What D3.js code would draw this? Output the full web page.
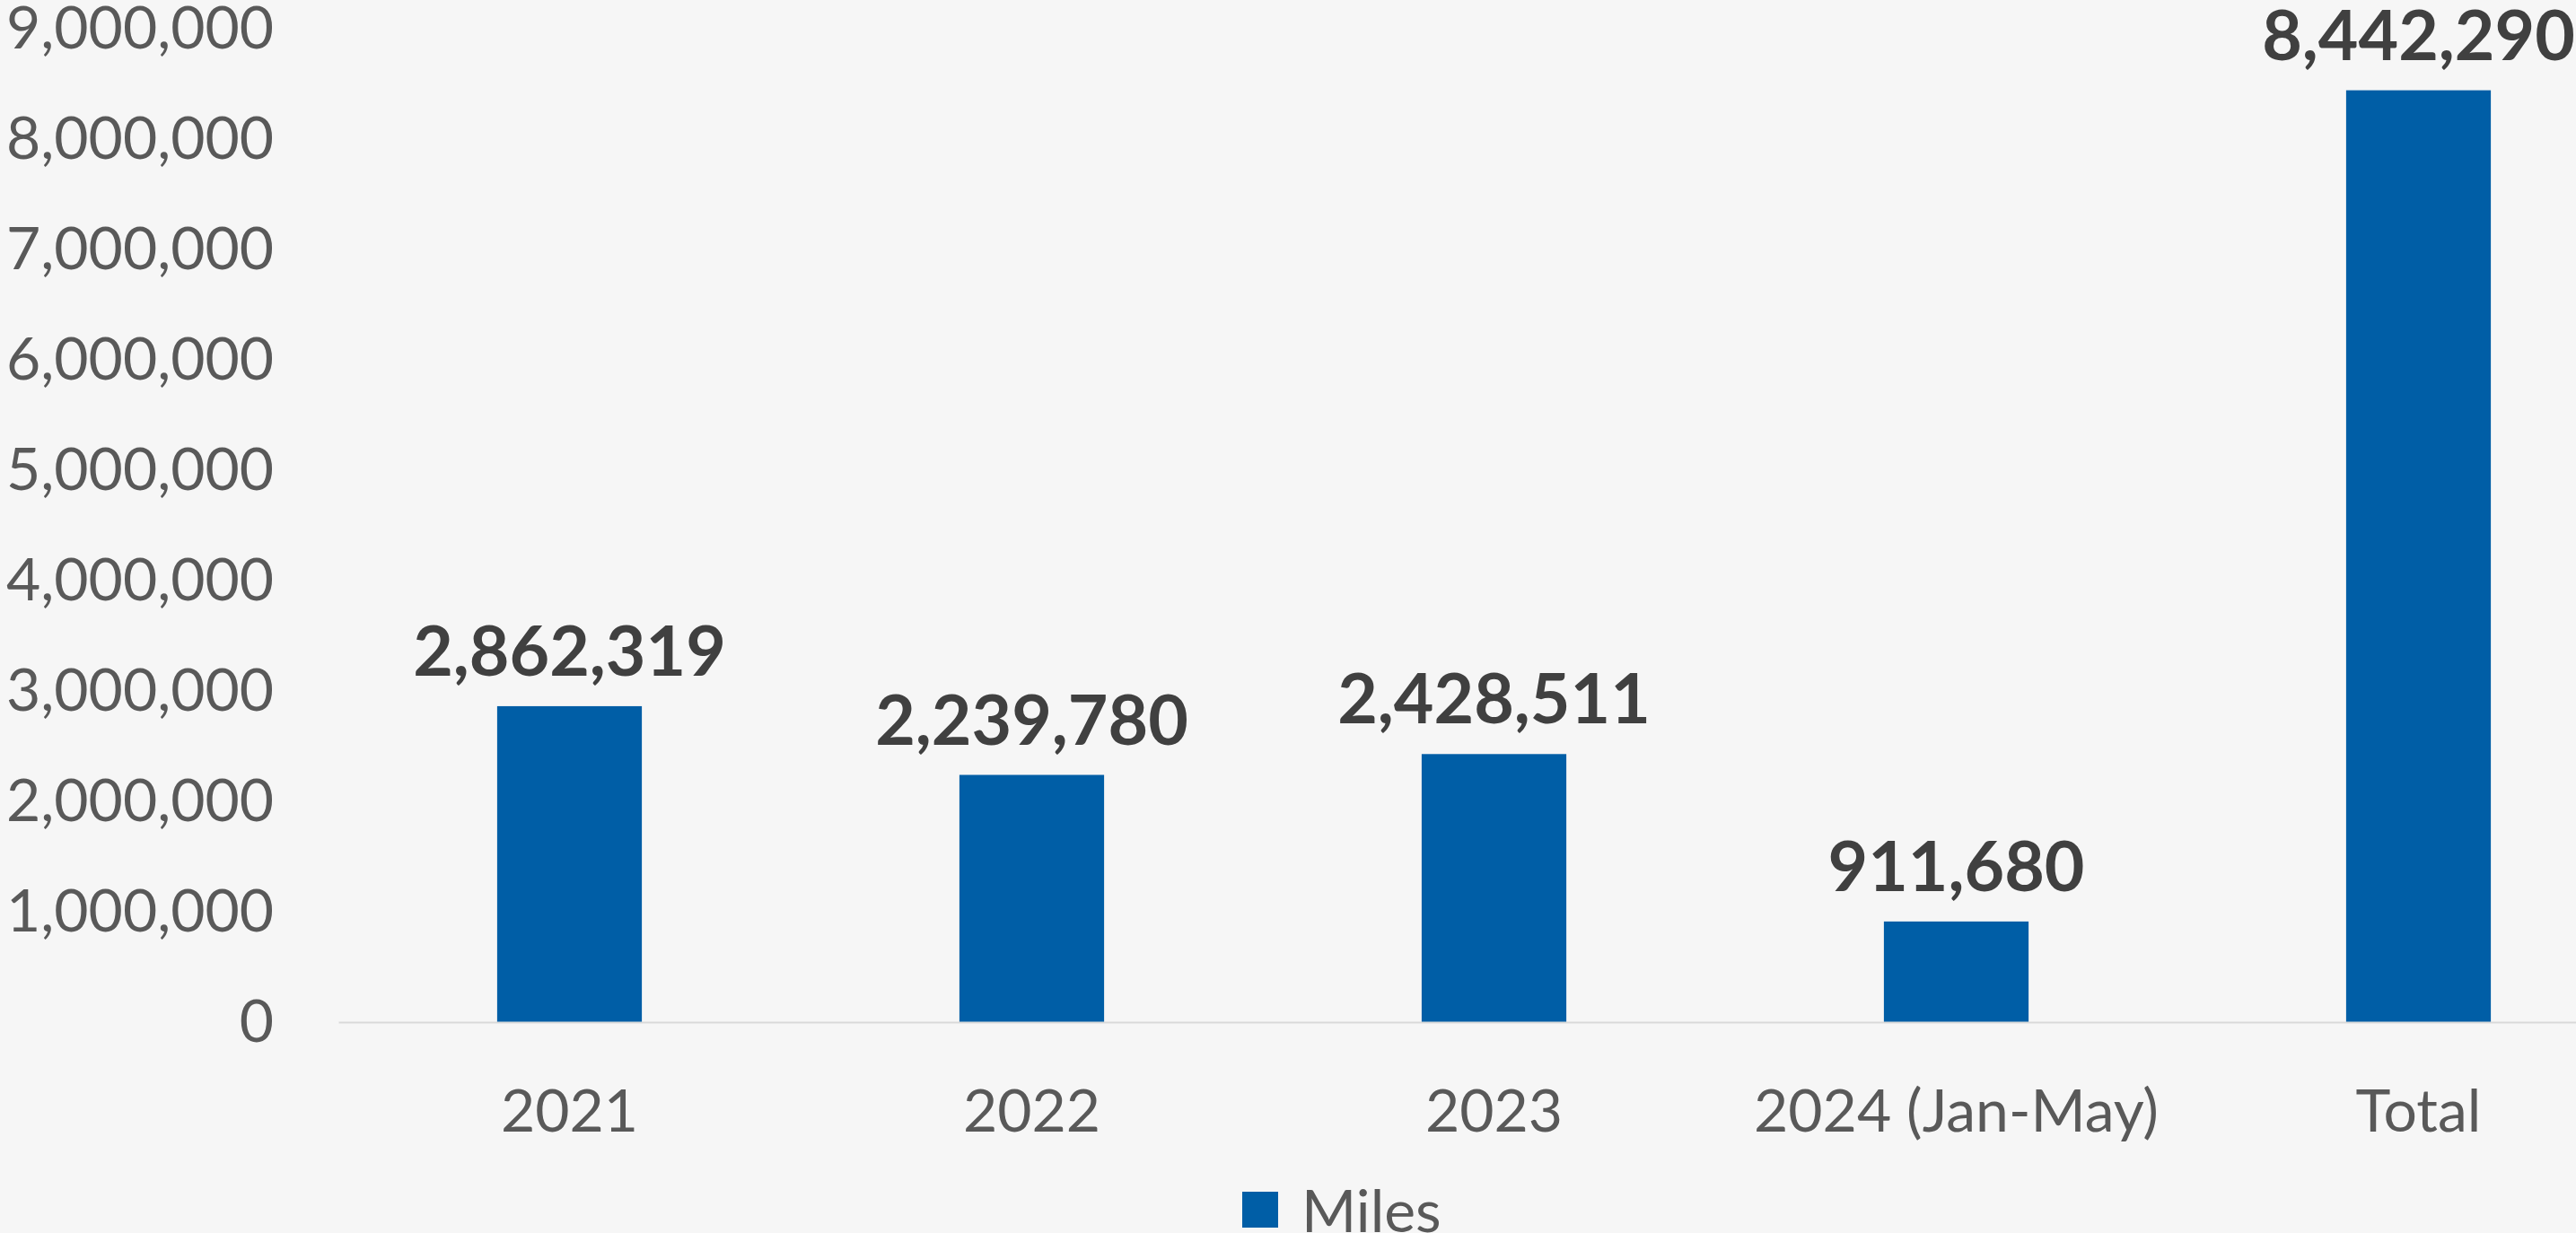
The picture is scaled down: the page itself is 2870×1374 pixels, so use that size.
<!DOCTYPE html>
<html>
<head>
<meta charset="utf-8">
<script src="https://cdn.jsdelivr.net/npm/d3@7"></script>
<style>
  body { margin: 0; background: #f6f6f6; }
  svg { display: block; }
</style>
</head>
<body>
<svg id="chart" width="2870" height="1374"></svg>
<script>
// chart data
var categories = ["2021", "2022", "2023", "2024 (Jan-May)", "Total"];
var miles = [2862319, 2239780, 2428511, 911680, 8442290];
var yTicks = [0, 1000000, 2000000, 3000000, 4000000, 5000000, 6000000, 7000000, 8000000, 9000000];
var seriesName = "Miles";

var BAR_COLOR = "#005ea6";
var TICK_COLOR = "#595959";
var LABEL_COLOR = "#404040";
var FONT = "Lato, 'Open Sans', sans-serif";

var svg = d3.select("#chart");
svg.append("rect")
    .attr("width", 2870)
    .attr("height", 1374)
    .attr("fill", "#f6f6f6");

// plot area runs past the right edge, the picture is cropped there
var x = d3.scaleBand()
    .domain(categories)
    .range([377, 2952])
    .paddingInner(0.687)
    .paddingOuter(0.3435);

var y = d3.scaleLinear()
    .domain([0, 9000000])
    .range([1139, 32]);

// y axis, labels only
var yAxis = svg.append("g")
    .attr("transform", "translate(377,0)")
    .call(d3.axisLeft(y).tickValues(yTicks).tickFormat(d3.format(",")).tickSize(0).tickPadding(72));
yAxis.select(".domain").remove();
yAxis.selectAll("text")
    .attr("fill", TICK_COLOR)
    .style("font-family", FONT)
    .style("font-size", "66px");

// bars
svg.append("g").selectAll("rect")
    .data(miles)
    .join("rect")
    .attr("x", function(d, i) { return x(categories[i]); })
    .attr("y", function(d) { return y(d); })
    .attr("width", x.bandwidth())
    .attr("height", function(d) { return y(0) - y(d); })
    .attr("fill", BAR_COLOR);

// x axis
var xAxis = svg.append("g")
    .attr("transform", "translate(0," + y(0) + ")")
    .call(d3.axisBottom(x).tickSize(0).tickSizeOuter(0));
xAxis.select(".domain")
    .attr("stroke", "#d9d9d9")
    .attr("stroke-width", 2);
xAxis.selectAll("text")
    .attr("y", 122)
    .attr("dy", 0)
    .attr("fill", TICK_COLOR)
    .style("font-family", FONT)
    .style("font-size", "66px");

// value labels
svg.append("g").selectAll("text")
    .data(miles)
    .join("text")
    .attr("x", function(d, i) { return x(categories[i]) + x.bandwidth() / 2; })
    .attr("y", function(d) { return y(d) - 34; })
    .attr("text-anchor", "middle")
    .attr("fill", LABEL_COLOR)
    .style("font-family", FONT)
    .style("font-weight", "bold")
    .style("font-size", "77px")
    .text(function(d) { return d3.format(",")(d); });

// legend
var legend = svg.append("g").attr("transform", "translate(1384,1328)");
legend.append("rect")
    .attr("width", 40)
    .attr("height", 40)
    .attr("fill", BAR_COLOR);
legend.append("text")
    .attr("x", 66)
    .attr("y", 45)
    .attr("fill", TICK_COLOR)
    .style("font-family", FONT)
    .style("font-size", "66px")
    .text(seriesName);
</script>
</body>
</html>
